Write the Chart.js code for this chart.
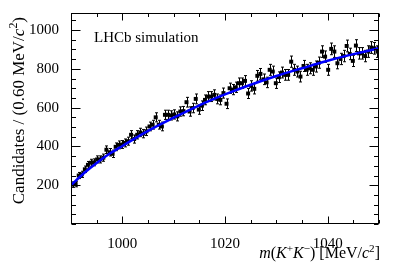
<!DOCTYPE html>
<html>
<head>
<meta charset="utf-8">
<script src="https://cdn.jsdelivr.net/npm/chart.js@4"></script>
<style>
html, body { margin: 0; padding: 0; background: #fff; }
</style>
</head>
<body>
<canvas id="chart" width="399" height="267"></canvas>
<script>
// histogram binning (0.60 MeV/c2 bins from 990 to 1050)
const binLow = 990;
const binWidth = 0.6;

// candidates per bin
const counts = [
  203, 206, 250, 256, 282, 305, 316, 318, 333, 333,
  342, 383, 370, 362, 398, 408, 410, 418, 427, 460,
  438, 460, 472, 466, 478, 503, 512, 550, 512, 503,
  563, 563, 560, 565, 555, 580, 582, 628, 580, 598,
  645, 590, 610, 640, 657, 657, 666, 645, 640, 675,
  620, 700, 693, 705, 726, 726, 738, 673, 712, 697,
  764, 774, 746, 730, 795, 786, 726, 757, 781, 769,
  769, 837, 795, 786, 760, 815, 795, 803, 795, 812,
  832, 889, 863, 795, 903, 889, 829, 851, 866, 918,
  877, 841, 920, 880, 880, 866, 889, 910, 906, 889
];

// fit curve (blue), read at a few masses
const fitMass  = [990, 992.5, 995, 997.5, 1000, 1005, 1010, 1015, 1020, 1025, 1030, 1035, 1040, 1045, 1050];
const fitYield = [200, 262, 315, 362, 402, 480, 548, 612, 668, 718, 763, 803, 842, 876, 906];

// axis tick labels
const xTickLabels = [1000, 1020, 1040];
const yTickLabels = [200, 400, 600, 800, 1000];
const xMinorStep = 5;
const yMinorStep = 50;

const points = counts.map((n, i) => ({ x: binLow + binWidth * (i + 0.5), y: n }));
const fitPoints = fitMass.map((m, i) => ({ x: m, y: fitYield[i] }));

const serif = "'Liberation Serif', 'DejaVu Serif', serif";

// draws a string made of parts, some italic, some superscript
function drawRich(ctx, parts, x, y, size, align) {
  let widths = parts.map(p => {
    ctx.font = (p.it ? 'italic ' : '') + (p.sup ? size * 0.7 : size) + 'px ' + serif;
    return ctx.measureText(p.t).width;
  });
  let total = widths.reduce((a, b) => a + b, 0);
  let cx = align === 'right' ? x - total : x;
  parts.forEach((p, i) => {
    ctx.font = (p.it ? 'italic ' : '') + (p.sup ? size * 0.7 : size) + 'px ' + serif;
    ctx.fillText(p.t, cx, p.sup ? y - size * 0.38 : y);
    cx += widths[i];
  });
}

const hepFrame = {
  id: 'hepFrame',
  beforeDatasetsDraw(chart) {
    const ctx = chart.ctx, xs = chart.scales.x, ys = chart.scales.y;
    ctx.save();
    ctx.strokeStyle = '#000';
    ctx.lineWidth = 1;
    points.forEach(p => {
      const err = Math.sqrt(p.y);
      const px = Math.round(xs.getPixelForValue(p.x)) + 0.5;
      const top = ys.getPixelForValue(p.y + err);
      const bot = ys.getPixelForValue(p.y - err);
      ctx.beginPath();
      ctx.moveTo(px, top); ctx.lineTo(px, bot);
      ctx.moveTo(px - 1.5, top); ctx.lineTo(px + 1.5, top);
      ctx.moveTo(px - 1.5, bot); ctx.lineTo(px + 1.5, bot);
      ctx.moveTo(xs.getPixelForValue(p.x - binWidth / 2), ys.getPixelForValue(p.y));
      ctx.lineTo(xs.getPixelForValue(p.x + binWidth / 2), ys.getPixelForValue(p.y));
      ctx.stroke();
    });
    ctx.restore();
  },
  afterDraw(chart) {
    const ctx = chart.ctx, xs = chart.scales.x, ys = chart.scales.y;
    const a = chart.chartArea;
    const L = Math.round(a.left) + 0.5, R = Math.round(a.right) - 0.5;
    const T = Math.round(a.top) + 0.5, B = Math.round(a.bottom) - 0.5;
    ctx.save();
    ctx.strokeStyle = '#000';
    ctx.lineWidth = 1;
    ctx.strokeRect(L, T, R - L, B - T);

    ctx.beginPath();
    // x ticks, bottom and top, pointing inwards
    for (let v = xs.min; v <= xs.max + 1e-9; v += xMinorStep) {
      const px = Math.round(xs.getPixelForValue(v)) + 0.5;
      const len = xTickLabels.includes(v) ? 7 : 3.5;
      ctx.moveTo(px, B); ctx.lineTo(px, B - len);
      ctx.moveTo(px, T); ctx.lineTo(px, T + len);
    }
    // y ticks, left and right
    for (let v = 0; v <= ys.max; v += yMinorStep) {
      const py = Math.round(ys.getPixelForValue(v)) + 0.5;
      const len = yTickLabels.includes(v) ? 9 : 4.5;
      ctx.moveTo(L, py); ctx.lineTo(L + len, py);
      ctx.moveTo(R, py); ctx.lineTo(R - len, py);
    }
    ctx.stroke();

    ctx.fillStyle = '#000';
    ctx.textBaseline = 'middle';
    ctx.textAlign = 'left';
    ctx.font = '15px ' + serif;
    ctx.fillText('LHCb simulation', a.left + 23, a.top + 25);

    // x axis title
    ctx.textBaseline = 'alphabetic';
    drawRich(ctx, [
      { t: 'm', it: true }, { t: '(' }, { t: 'K', it: true }, { t: '+', sup: true },
      { t: 'K', it: true }, { t: '\u2212', sup: true }, { t: ') [MeV/' },
      { t: 'c', it: true }, { t: '2', sup: true }, { t: ']' }
    ], a.right + 1, 258, 16, 'right');

    // y axis title, rotated
    ctx.translate(20, 17);
    ctx.rotate(-Math.PI / 2);
    ctx.textBaseline = 'middle';
    drawRich(ctx, [
      { t: 'Candidates / (0.60 MeV/' }, { t: 'c', it: true }, { t: '2', sup: true }, { t: ')' }
    ], 0, 0, 17, 'right');
    ctx.restore();
  }
};

new Chart(document.getElementById('chart'), {
  type: 'scatter',
  data: {
    datasets: [
      {
        type: 'line',
        data: fitPoints,
        borderColor: '#0000ff',
        borderWidth: 2.5,
        pointRadius: 0,
        cubicInterpolationMode: 'monotone',
        fill: false
      },
      {
        data: points,
        pointStyle: 'rect',
        pointRadius: 2.8,
        backgroundColor: '#000',
        borderColor: '#000',
        borderWidth: 0
      }
    ]
  },
  options: {
    responsive: false,
    animation: false,
    layout: { padding: { left: 0, right: 20, top: 13, bottom: 0 } },
    plugins: { legend: { display: false }, tooltip: { enabled: false } },
    scales: {
      x: {
        type: 'linear',
        min: 990,
        max: 1050,
        grid: { display: false },
        border: { display: false },
        afterBuildTicks: s => { s.ticks = xTickLabels.map(v => ({ value: v })); },
        afterFit: s => { s.height = 43; },
        ticks: { font: { family: serif, size: 15 }, color: '#000', padding: 3, maxRotation: 0,
                 callback: v => String(v) }
      },
      y: {
        min: 0,
        max: 1088,
        grid: { display: false },
        border: { display: false },
        afterBuildTicks: s => { s.ticks = yTickLabels.map(v => ({ value: v })); },
        afterFit: s => { s.width = 71; },
        ticks: { font: { family: serif, size: 15 }, color: '#000', padding: 4,
                 callback: v => String(v) }
      }
    }
  },
  plugins: [hepFrame]
});
</script>
</body>
</html>
